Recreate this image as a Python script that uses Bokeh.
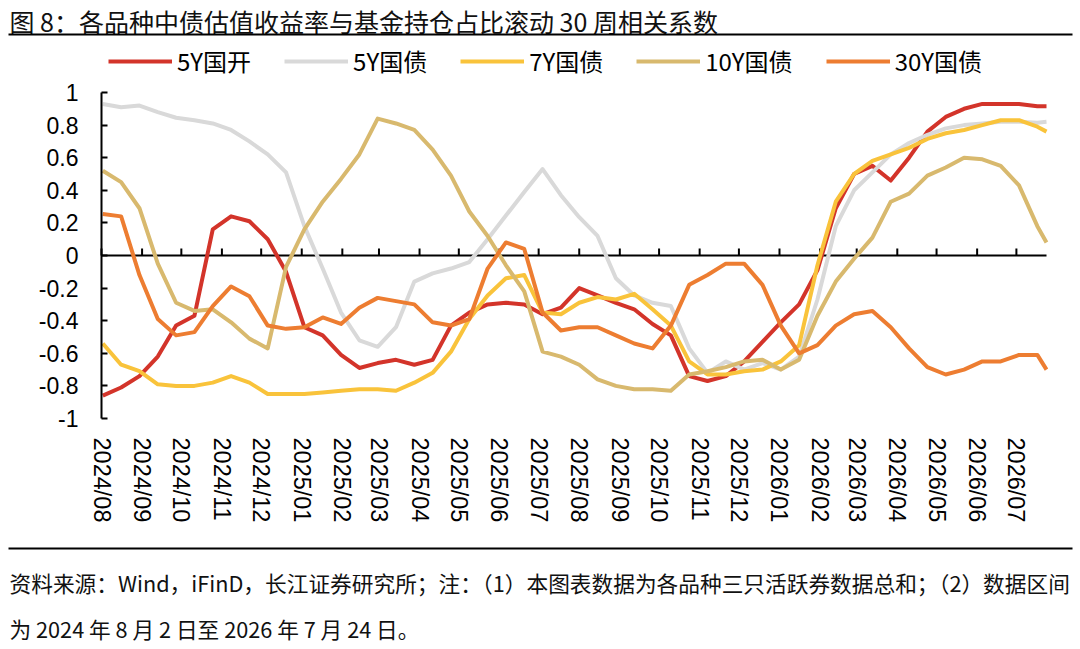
import pandas as pd
from bokeh.plotting import figure
from bokeh.models import (Range1d, FixedTicker, LinearAxis, DatetimeAxis,
                          DatetimeTickFormatter, Legend, LegendItem, Label,
                          BoxAnnotation)
from bokeh.embed import file_html
from bokeh.resources import INLINE

# ---------------- data ----------------
dates = list(pd.date_range("2024-08-02", periods=52, freq="14D")) + [pd.Timestamp("2026-07-24")]

names = ["5Y国开", "5Y国债", "7Y国债", "10Y国债", "30Y国债"]
colors = ["#D3342A", "#D9D9D9", "#F9C33B", "#D8B96E", "#ED7D31"]

cdb_5y = [-0.86, -0.81, -0.74, -0.62, -0.43, -0.37, 0.16, 0.24, 0.21, 0.10,
          -0.10, -0.44, -0.49, -0.61, -0.69, -0.66, -0.64, -0.67, -0.64, -0.43,
          -0.35, -0.30, -0.29, -0.30, -0.36, -0.32, -0.20, -0.245, -0.29, -0.33,
          -0.42, -0.49, -0.74, -0.77, -0.74, -0.65, -0.53, -0.41, -0.30, -0.09,
          0.29, 0.50, 0.55, 0.46, 0.60, 0.76, 0.85, 0.90, 0.93, 0.93,
          0.93, 0.915, 0.915]
gov_5y = [0.93, 0.91, 0.92, 0.88, 0.845, 0.83, 0.81, 0.77, 0.70, 0.62,
          0.51, 0.18, -0.08, -0.35, -0.52, -0.56, -0.44, -0.16, -0.11, -0.08,
          -0.04, 0.10, 0.245, 0.39, 0.53, 0.37, 0.235, 0.12, -0.14, -0.245,
          -0.29, -0.31, -0.57, -0.72, -0.65, -0.70, -0.66, -0.70, -0.62, -0.27,
          0.18, 0.40, 0.51, 0.62, 0.69, 0.74, 0.78, 0.80, 0.81, 0.82,
          0.82, 0.815, 0.82]
gov_7y = [-0.54, -0.67, -0.71, -0.79, -0.80, -0.80, -0.78, -0.74, -0.78, -0.85,
          -0.85, -0.85, -0.84, -0.83, -0.82, -0.82, -0.83, -0.78, -0.72, -0.59,
          -0.39, -0.245, -0.14, -0.12, -0.35, -0.36, -0.29, -0.255, -0.27, -0.235,
          -0.33, -0.43, -0.65, -0.73, -0.73, -0.71, -0.70, -0.65, -0.55, -0.06,
          0.33, 0.50, 0.58, 0.62, 0.66, 0.715, 0.75, 0.77, 0.80, 0.83,
          0.83, 0.79, 0.76]
gov_10y = [0.52, 0.45, 0.29, -0.05, -0.29, -0.34, -0.33, -0.41, -0.51, -0.57,
           -0.07, 0.16, 0.33, 0.47, 0.62, 0.84, 0.81, 0.77, 0.65, 0.49,
           0.27, 0.12, -0.06, -0.22, -0.59, -0.62, -0.67, -0.76, -0.80, -0.82,
           -0.82, -0.83, -0.73, -0.71, -0.685, -0.65, -0.64, -0.70, -0.64, -0.37,
           -0.16, -0.02, 0.11, 0.33, 0.38, 0.49, 0.54, 0.60, 0.59, 0.55,
           0.43, 0.18, 0.08]
gov_30y = [0.255, 0.24, -0.12, -0.39, -0.49, -0.47, -0.31, -0.19, -0.25, -0.43,
           -0.45, -0.44, -0.38, -0.42, -0.32, -0.26, -0.28, -0.30, -0.41, -0.43,
           -0.39, -0.08, 0.08, 0.04, -0.35, -0.46, -0.44, -0.44, -0.49, -0.54,
           -0.57, -0.43, -0.18, -0.12, -0.05, -0.05, -0.18, -0.43, -0.60, -0.55,
           -0.43, -0.36, -0.34, -0.44, -0.57, -0.685, -0.73, -0.70, -0.65, -0.65,
           -0.61, -0.61, -0.70]
series = [cdb_5y, gov_5y, gov_7y, gov_10y, gov_30y]

month_ticks = pd.date_range("2024-08-01", "2026-07-01", freq="MS")
y_ticks = [1, 0.8, 0.6, 0.4, 0.2, 0, -0.2, -0.4, -0.6, -0.8, -1]
y_labels = ["1", "0.8", "0.6", "0.4", "0.2", "0", "-0.2", "-0.4", "-0.6", "-0.8", "-1"]

title_text = "图 8：各品种中债估值收益率与基金持仓占比滚动 30 周相关系数"
note_line1 = "资料来源：Wind，iFinD，长江证券研究所；注：（1）本图表数据为各品种三只活跃券数据总和；（2）数据区间"
note_line2 = "为 2024 年 8 月 2 日至 2026 年 7 月 24 日。"

# ---------------- layout (page pixels) ----------------
W, H = 1080, 648
CJK = "Noto Sans CJK SC"
AX_L, AX_R, AX_T, AX_B = 101, 1046, 92, 418     # plotting area inside the canvas
TICK_PX = 7

t0 = month_ticks[0]
t1 = dates[-1]
ms_per_px = (t1 - t0).total_seconds() * 1000 / (AX_R - AX_L)
t0_ms = t0.timestamp() * 1000
u_per_px = 2.0 / (AX_B - AX_T)

x_range = Range1d(t0_ms - AX_L * ms_per_px, t0_ms + (W - AX_L) * ms_per_px)
y_range = Range1d(1 - (H - AX_T) * u_per_px, 1 + AX_T * u_per_px)

p = figure(width=W, height=H, x_range=x_range, y_range=y_range,
           x_axis_location=None, y_axis_location=None,
           output_backend="svg", toolbar_location=None, min_border=0)
p.outline_line_color = None
p.grid.visible = False
p.background_fill_color = "white"
p.border_fill_color = "white"

# y axis standing at the first month
yax = LinearAxis(fixed_location=t0_ms, bounds=(-1, 1),
                 ticker=FixedTicker(ticks=y_ticks),
                 major_label_overrides=dict(zip(y_ticks, y_labels)),
                 major_tick_in=6, major_tick_out=0,
                 minor_tick_in=0, minor_tick_out=0,
                 axis_line_width=2, major_tick_line_width=2,
                 axis_line_color="black", major_tick_line_color="black",
                 major_label_text_font="Liberation Sans",
                 major_label_text_font_size="23px",
                 major_label_text_color="black",
                 major_label_standoff=23)
p.add_layout(yax, "left")

# month labels under the plotting area
month_ms = [t.timestamp() * 1000 for t in month_ticks]
fmt = "%Y/%m"
lax = DatetimeAxis(fixed_location=-1, ticker=FixedTicker(ticks=month_ms),
                   formatter=DatetimeTickFormatter(microseconds=fmt, milliseconds=fmt,
                                                   seconds=fmt, minsec=fmt, minutes=fmt,
                                                   hourmin=fmt, hours=fmt, days=fmt,
                                                   months=fmt, years=fmt),
                   axis_line_color=None, major_tick_line_color=None,
                   minor_tick_line_color=None,
                   major_label_orientation="vertical",
                   major_label_text_font="Liberation Sans",
                   major_label_text_font_size="23.5px",
                   major_label_text_color="black",
                   major_label_standoff=13)
p.add_layout(lax, "below")

# zero line with upward month ticks
p.segment(x0=[t0], y0=[0], x1=[t1], y1=[0], line_color="black", line_width=2)
tick_len = TICK_PX * u_per_px
p.segment(x0=list(month_ticks), y0=0, x1=list(month_ticks), y1=tick_len,
          line_color="black", line_width=2)

# series
items = []
for name, col, vals in zip(names, colors, series):
    r = p.line(dates, vals, line_color=col, line_width=4, line_join="round")
    items.append(LegendItem(label=name, renderers=[r]))

legend = Legend(items=items, orientation="horizontal", location=(108, H - 78),
                glyph_width=64, glyph_height=28, label_standoff=5, spacing=33,
                padding=0, margin=0, border_line_color=None,
                background_fill_alpha=0,
                label_text_font=CJK, label_text_font_size="24px",
                label_text_color="black")
p.add_layout(legend, "center")

# title, rules and notes
p.add_layout(Label(x=9, y=20, x_units="canvas", y_units="canvas", text=title_text,
                   text_font=CJK, text_font_size="25px", text_color="#111111",
                   text_baseline="middle", text_align="left"))
for top in (33, 547):
    p.add_layout(BoxAnnotation(left=8, right=W - 8, top=top, bottom=top + 2,
                               left_units="canvas", right_units="canvas",
                               top_units="canvas", bottom_units="canvas",
                               fill_color="black", fill_alpha=1, line_color=None))
for yy, txt in ((582, note_line1), (628, note_line2)):
    p.add_layout(Label(x=9, y=yy, x_units="canvas", y_units="canvas", text=txt,
                       text_font=CJK, text_font_size="21.7px", text_color="#111111",
                       text_baseline="middle", text_align="left"))

open("out.html", "w").write(file_html(p, INLINE))
